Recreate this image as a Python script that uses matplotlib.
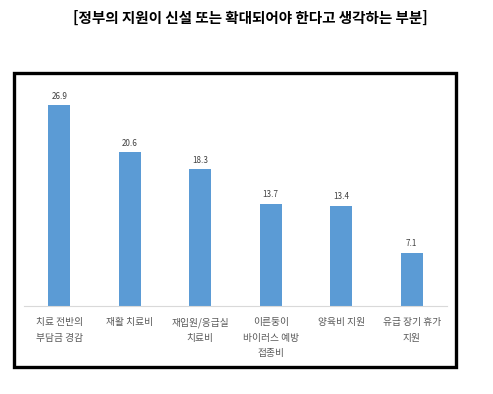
import matplotlib.pyplot as plt
from matplotlib.patches import Rectangle

plt.rcParams['font.family'] = ['Noto Sans CJK KR', 'DejaVu Sans']

title = '[정부의 지원이 신설 또는 확대되어야 한다고 생각하는 부분]'
categories = ['치료 전반의\n부담금 경감', '재활 치료비', '재입원/응급실\n치료비',
              '이른둥이\n바이러스 예방\n접종비', '양육비 지원', '유급 장기 휴가\n지원']
values = [26.9, 20.6, 18.3, 13.7, 13.4, 7.1]


def main():
    fig = plt.figure(figsize=(4.93, 3.94), dpi=100)
    ax = fig.add_axes([0.0487, 0.2234, 0.858, 0.5685])

    x = list(range(len(values)))
    bars = ax.bar(x, values, width=0.31, color='#5B9BD5')
    for b, v in zip(bars, values):
        ax.text(b.get_x() + b.get_width() / 2, v + 0.6, f'{v:.1f}',
                ha='center', va='bottom', fontsize=5.8, color='#404040')

    ax.set_xlim(-0.5, len(values) - 0.5)
    ax.set_ylim(0, 30)
    ax.set_yticks([])
    ax.set_xticks(x)
    ax.set_xticklabels(categories, fontsize=7, color='#595959', linespacing=1.7, va='top')
    ax.tick_params(axis='x', length=0, pad=8)
    for s in ['top', 'right', 'left']:
        ax.spines[s].set_visible(False)
    ax.spines['bottom'].set_color('#D9D9D9')
    ax.spines['bottom'].set_linewidth(0.8)

    # black frame around the chart
    fig.patches.append(Rectangle((0.0284, 0.0685), 0.8966, 0.7462, transform=fig.transFigure,
                                 fill=False, edgecolor='black', linewidth=2.4))

    fig.text(0.508, 0.955, title, ha='center', va='center', fontsize=10.5, fontweight='bold')

    fig.savefig('out.png', dpi=100)


if __name__ == '__main__':
    main()
